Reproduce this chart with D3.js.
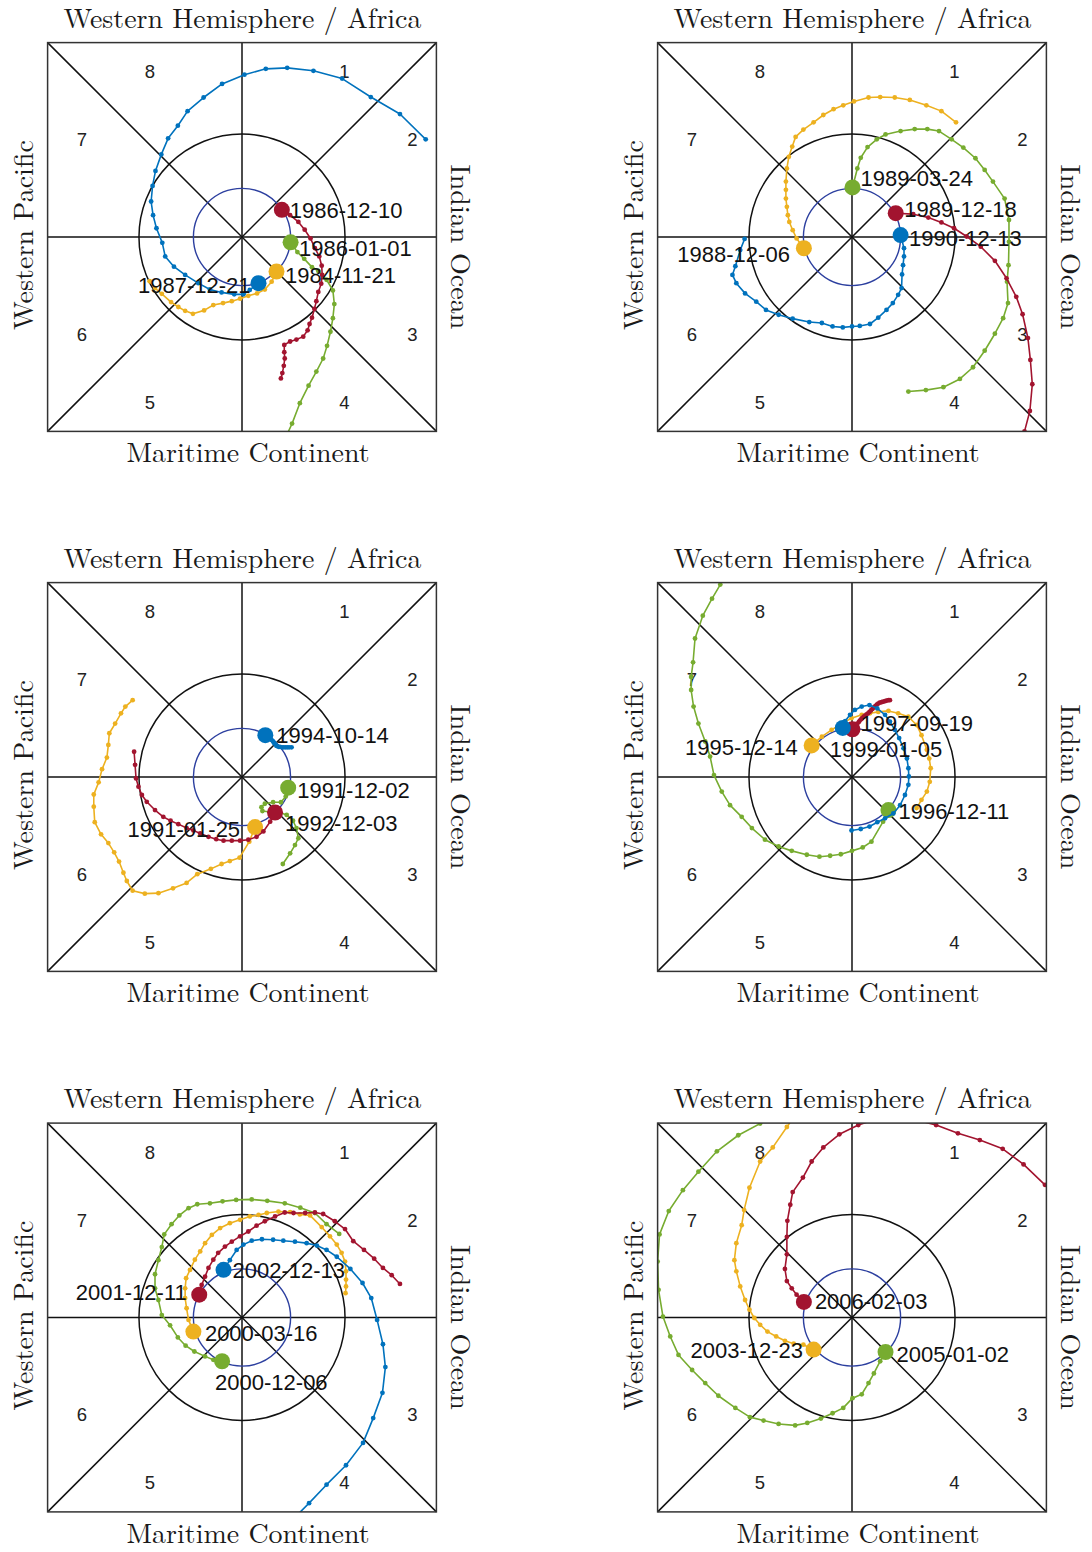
<!DOCTYPE html>
<html>
<head>
<meta charset="utf-8">
<script src="https://cdn.jsdelivr.net/npm/d3@7"></script>
<style>
  body { margin: 0; background: #fff; }
</style>
</head>
<body>
<svg id="chart" width="1092" height="1552"></svg>
<script>
// MJO phase-space trajectories (RMM1, RMM2); the first point of each track is the onset date.

// ---- 1984 - 1987 ----
const mjo_1984_11_21 = [[0.71,-0.71],[0.61,-0.92],[0.47,-1.08],[0.31,-1.16],[0.13,-1.21],[-0.04,-1.27],[-0.21,-1.32],[-0.39,-1.36],[-0.59,-1.40],[-0.78,-1.51],[-1.01,-1.58],[-1.17,-1.52],[-1.31,-1.44],[-1.46,-1.34],[-1.65,-1.17],[-1.79,-1.05],[-1.90,-0.91]];
const mjo_1986_01_01 = [[1.00,-0.11],[1.14,-0.31],[1.28,-0.45],[1.44,-0.62],[1.57,-0.70],[1.74,-0.88],[1.87,-1.10],[1.90,-1.38],[1.87,-1.67],[1.82,-1.95],[1.75,-2.24],[1.67,-2.50],[1.53,-2.77],[1.37,-3.06],[1.19,-3.42],[1.03,-3.84],[0.90,-4.12]];
const mjo_1986_12_10 = [[0.82,0.56],[0.99,0.45],[1.16,0.31],[1.29,0.15],[1.41,-0.03],[1.50,-0.23],[1.59,-0.40],[1.64,-0.59],[1.65,-0.78],[1.63,-0.96],[1.57,-1.13],[1.53,-1.32],[1.49,-1.48],[1.44,-1.66],[1.39,-1.79],[1.35,-1.92],[1.26,-2.05],[1.12,-2.11],[0.99,-2.15],[0.87,-2.22],[0.87,-2.37],[0.88,-2.50],[0.86,-2.65],[0.83,-2.80],[0.80,-2.91]];
const mjo_1987_12_21 = [[0.34,-0.95],[0.16,-1.09],[0.03,-1.18],[-0.16,-1.18],[-0.42,-1.14],[-0.66,-1.08],[-0.90,-0.95],[-1.17,-0.78],[-1.40,-0.61],[-1.58,-0.40],[-1.64,-0.12],[-1.76,0.18],[-1.83,0.45],[-1.87,0.73],[-1.84,1.05],[-1.78,1.36],[-1.66,1.70],[-1.52,2.03],[-1.32,2.29],[-1.12,2.59],[-0.79,2.87],[-0.41,3.15],[0.05,3.34],[0.49,3.46],[0.93,3.48],[1.47,3.42],[2.06,3.26],[2.65,2.88],[3.25,2.53],[3.78,2.01]];

// ---- 1988 - 1990 ----
const mjo_1988_12_06 = [[-0.99,-0.23],[-1.14,-0.03],[-1.22,0.14],[-1.29,0.31],[-1.32,0.45],[-1.34,0.62],[-1.36,0.79],[-1.36,0.97],[-1.36,1.14],[-1.34,1.41],[-1.30,1.65],[-1.23,1.86],[-1.16,2.06],[-1.00,2.21],[-0.79,2.36],[-0.59,2.51],[-0.38,2.63],[-0.18,2.71],[0.04,2.79],[0.34,2.87],[0.58,2.88],[0.88,2.87],[1.19,2.82],[1.53,2.71],[1.84,2.59],[2.14,2.36]];
const mjo_1989_03_24 = [[0.01,1.02],[0.11,1.41],[0.18,1.63],[0.32,1.85],[0.51,2.01],[0.69,2.11],[1.00,2.18],[1.29,2.22],[1.55,2.22],[1.79,2.18],[2.05,2.01],[2.29,1.84],[2.54,1.62],[2.73,1.38],[2.90,1.14],[3.14,0.79],[3.23,0.35],[3.23,-0.10],[3.22,-0.58],[3.19,-0.92],[3.21,-1.36],[3.11,-1.67],[2.94,-1.99],[2.73,-2.34],[2.49,-2.68],[2.22,-2.92],[1.88,-3.09],[1.52,-3.15],[1.16,-3.18]];
const mjo_1989_12_18 = [[0.90,0.49],[1.26,0.47],[1.57,0.40],[1.84,0.30],[2.10,0.18],[2.36,0.01],[2.65,-0.20],[2.94,-0.49],[3.18,-0.85],[3.38,-1.23],[3.51,-1.59],[3.62,-2.08],[3.67,-2.53],[3.71,-3.03],[3.66,-3.58],[3.55,-4.00],[3.52,-4.10]];
const mjo_1990_12_13 = [[1.00,0.04],[1.07,-0.23],[1.07,-0.40],[1.05,-0.58],[1.03,-0.77],[1.02,-1.05],[0.95,-1.19],[0.84,-1.36],[0.71,-1.50],[0.54,-1.66],[0.37,-1.79],[0.16,-1.83],[0.00,-1.84],[-0.19,-1.86],[-0.40,-1.84],[-0.62,-1.77],[-0.88,-1.75],[-1.22,-1.68],[-1.51,-1.60],[-1.77,-1.50],[-1.97,-1.33],[-2.20,-1.16],[-2.38,-0.95],[-2.46,-0.78],[-2.40,-0.60],[-2.30,-0.27],[-2.21,-0.04]];

// ---- 1991 - 1994 ----
const mjo_1991_01_25 = [[0.27,-1.03],[0.15,-1.33],[-0.05,-1.66],[-0.25,-1.73],[-0.42,-1.79],[-0.64,-1.89],[-0.92,-2.00],[-1.14,-2.18],[-1.42,-2.29],[-1.72,-2.39],[-2.00,-2.40],[-2.25,-2.34],[-2.37,-2.14],[-2.44,-1.97],[-2.53,-1.74],[-2.63,-1.55],[-2.75,-1.36],[-2.90,-1.18],[-3.03,-0.93],[-3.05,-0.61],[-3.05,-0.36],[-2.95,-0.11],[-2.88,0.16],[-2.78,0.40],[-2.75,0.66],[-2.73,0.90],[-2.61,1.10],[-2.49,1.31],[-2.40,1.45],[-2.25,1.58]];
const mjo_1991_12_02 = [[0.95,-0.22],[0.90,-0.40],[0.80,-0.52],[0.64,-0.52],[0.47,-0.55],[0.40,-0.62],[0.42,-0.70],[0.58,-0.72],[0.75,-0.72],[0.92,-0.78],[1.05,-0.90],[1.12,-1.05],[1.16,-1.26],[1.09,-1.40],[0.99,-1.57],[0.84,-1.79]];
const mjo_1992_12_03 = [[0.68,-0.73],[0.58,-0.92],[0.44,-1.12],[0.30,-1.23],[0.13,-1.29],[-0.04,-1.31],[-0.21,-1.31],[-0.38,-1.31],[-0.53,-1.28],[-0.69,-1.23],[-0.86,-1.16],[-1.00,-1.10],[-1.14,-1.05],[-1.31,-0.97],[-1.47,-0.90],[-1.62,-0.82],[-1.79,-0.68],[-1.96,-0.51],[-2.06,-0.37],[-2.13,-0.20],[-2.18,-0.03],[-2.20,0.25],[-2.22,0.52]];
const mjo_1994_10_14 = [[0.48,0.86],[0.51,0.84],[0.54,0.82],[0.58,0.79],[0.61,0.76],[0.64,0.73],[0.66,0.70],[0.69,0.67],[0.71,0.64],[0.75,0.62],[0.78,0.62],[0.82,0.61],[0.85,0.61],[0.89,0.61],[0.93,0.61],[0.97,0.61],[1.02,0.61]];

// ---- 1995 - 1999 ----
const mjo_1995_12_14 = [[-0.83,0.65],[-0.62,0.83],[-0.42,0.97],[-0.21,1.10],[-0.01,1.21],[0.20,1.28],[0.37,1.31],[0.54,1.34],[0.75,1.36],[0.95,1.31],[1.16,1.24],[1.33,1.07],[1.43,0.86],[1.54,0.56],[1.59,0.38],[1.62,0.18],[1.60,-0.10],[1.54,-0.30],[1.43,-0.47],[1.33,-0.64]];
const mjo_1996_12_11 = [[0.75,-0.68],[0.64,-0.92],[0.40,-1.33],[0.22,-1.45],[0.00,-1.52],[-0.23,-1.59],[-0.45,-1.62],[-0.67,-1.64],[-0.93,-1.60],[-1.24,-1.52],[-1.51,-1.43],[-1.79,-1.29],[-2.06,-1.05],[-2.27,-0.82],[-2.51,-0.58],[-2.68,-0.30],[-2.84,0.04],[-2.92,0.42],[-3.02,0.73],[-3.16,1.10],[-3.26,1.45],[-3.31,1.79],[-3.31,2.06],[-3.27,2.36],[-3.23,2.85],[-3.07,3.32],[-2.88,3.67],[-2.71,3.96],[-2.65,4.10]];
const mjo_1997_09_19 = [[0.01,0.98],[0.04,1.01],[0.06,1.04],[0.09,1.07],[0.11,1.10],[0.14,1.13],[0.16,1.16],[0.19,1.19],[0.21,1.21],[0.24,1.24],[0.27,1.26],[0.30,1.29],[0.33,1.31],[0.36,1.34],[0.39,1.37],[0.42,1.40],[0.45,1.43],[0.48,1.46],[0.51,1.49],[0.54,1.51],[0.57,1.53],[0.61,1.54],[0.64,1.55],[0.68,1.56],[0.71,1.57],[0.75,1.58],[0.78,1.58]];
const mjo_1999_01_05 = [[-0.19,1.01],[-0.14,1.15],[-0.04,1.28],[0.06,1.38],[0.20,1.45],[0.36,1.48],[0.52,1.41],[0.68,1.28],[0.78,1.14],[0.88,0.97],[0.97,0.80],[1.06,0.59],[1.13,0.38],[1.16,0.18],[1.17,0.01],[1.16,-0.16],[1.09,-0.37],[0.99,-0.58],[0.85,-0.75],[0.68,-0.85],[0.52,-0.93],[0.36,-1.02],[0.18,-1.07],[-0.01,-1.10]];

// ---- 2000 - 2002 ----
const mjo_2000_03_16 = [[-1.00,-0.29],[-1.10,-0.05],[-1.14,0.19],[-1.17,0.40],[-1.17,0.60],[-1.15,0.81],[-1.07,0.98],[-0.97,1.19],[-0.86,1.36],[-0.76,1.53],[-0.62,1.70],[-0.45,1.84],[-0.25,1.94],[-0.04,2.01],[0.16,2.08],[0.34,2.11],[0.51,2.15],[0.75,2.18],[0.99,2.17],[1.19,2.12],[1.40,2.10],[1.64,1.86],[1.81,1.67],[1.95,1.50],[2.05,1.33],[2.12,1.15],[2.14,0.95],[2.14,0.78],[2.14,0.64],[2.13,0.50]];
const mjo_2000_12_06 = [[-0.41,-0.90],[-0.59,-0.87],[-0.76,-0.80],[-0.98,-0.70],[-1.16,-0.58],[-1.32,-0.41],[-1.48,-0.16],[-1.65,0.05],[-1.72,0.36],[-1.79,0.60],[-1.79,0.89],[-1.72,1.18],[-1.65,1.45],[-1.60,1.71],[-1.45,1.92],[-1.29,2.10],[-1.10,2.25],[-0.92,2.33],[-0.66,2.35],[-0.40,2.39],[-0.12,2.42],[0.20,2.43],[0.52,2.40],[0.88,2.35],[1.20,2.26],[1.50,2.15],[1.74,1.92],[2.00,1.72]];
const mjo_2001_12_11 = [[-0.88,0.47],[-0.83,0.67],[-0.76,0.84],[-0.69,1.02],[-0.59,1.19],[-0.49,1.33],[-0.35,1.46],[-0.21,1.56],[-0.04,1.67],[0.13,1.77],[0.30,1.89],[0.47,1.98],[0.68,2.08],[0.88,2.16],[1.06,2.15],[1.30,2.15],[1.50,2.16],[1.67,2.13],[1.91,1.98],[2.12,1.82],[2.29,1.57],[2.51,1.39],[2.72,1.21],[2.90,1.02],[3.08,0.87],[3.25,0.69]];
const mjo_2002_12_13 = [[-0.38,0.98],[-0.25,1.18],[-0.11,1.39],[0.03,1.50],[0.20,1.58],[0.41,1.61],[0.64,1.60],[0.85,1.58],[1.09,1.56],[1.33,1.53],[1.54,1.48],[1.74,1.39],[1.95,1.25],[2.23,1.00],[2.48,0.71],[2.66,0.40],[2.78,-0.05],[2.90,-0.55],[2.95,-1.02],[2.89,-1.55],[2.70,-2.07],[2.49,-2.58],[2.14,-3.04],[1.74,-3.44],[1.38,-3.82],[1.15,-4.05]];

// ---- 2003 - 2006 ----
const mjo_2003_12_23 = [[-0.79,-0.66],[-1.00,-0.56],[-1.20,-0.54],[-1.38,-0.48],[-1.56,-0.39],[-1.74,-0.29],[-1.89,-0.15],[-2.01,-0.01],[-2.11,0.16],[-2.20,0.36],[-2.30,0.64],[-2.38,0.95],[-2.42,1.18],[-2.38,1.53],[-2.27,1.90],[-2.22,2.21],[-2.11,2.67],[-1.89,3.21],[-1.63,3.50],[-1.34,3.92],[-1.24,4.06]];
const mjo_2005_01_02 = [[0.69,-0.71],[0.58,-0.90],[0.45,-1.15],[0.34,-1.35],[0.20,-1.58],[0.01,-1.66],[-0.18,-1.86],[-0.40,-1.97],[-0.64,-2.08],[-0.92,-2.17],[-1.17,-2.22],[-1.51,-2.19],[-1.82,-2.12],[-2.10,-2.05],[-2.40,-1.86],[-2.75,-1.61],[-3.02,-1.35],[-3.29,-1.08],[-3.57,-0.77],[-3.74,-0.39],[-3.89,0.02],[-3.98,0.57],[-4.00,1.15],[-3.96,1.71],[-3.77,2.19],[-3.48,2.62],[-3.16,3.00],[-2.78,3.42],[-2.34,3.75],[-1.89,3.99],[-1.75,4.08]];
const mjo_2006_02_03 = [[-0.99,0.32],[-1.14,0.47],[-1.24,0.60],[-1.34,0.75],[-1.38,1.00],[-1.34,1.30],[-1.34,1.66],[-1.33,1.99],[-1.27,2.32],[-1.22,2.58],[-1.01,2.88],[-0.83,3.21],[-0.59,3.50],[-0.26,3.77],[0.13,3.96],[0.55,4.10],[1.10,4.12],[1.73,3.96],[2.18,3.79],[2.63,3.65],[3.10,3.47],[3.53,3.15],[3.97,2.73],[4.05,2.65]];

// Events shown in each panel, in chronological order
const panelDates = [
  ["1984-11-21", "1986-01-01", "1986-12-10", "1987-12-21"],
  ["1988-12-06", "1989-03-24", "1989-12-18", "1990-12-13"],
  ["1991-01-25", "1991-12-02", "1992-12-03", "1994-10-14"],
  ["1995-12-14", "1996-12-11", "1997-09-19", "1999-01-05"],
  ["2000-03-16", "2000-12-06", "2001-12-11", "2002-12-13"],
  ["2003-12-23", "2005-01-02", "2006-02-03"]
];
const panelTracks = [
  [mjo_1984_11_21, mjo_1986_01_01, mjo_1986_12_10, mjo_1987_12_21],
  [mjo_1988_12_06, mjo_1989_03_24, mjo_1989_12_18, mjo_1990_12_13],
  [mjo_1991_01_25, mjo_1991_12_02, mjo_1992_12_03, mjo_1994_10_14],
  [mjo_1995_12_14, mjo_1996_12_11, mjo_1997_09_19, mjo_1999_01_05],
  [mjo_2000_03_16, mjo_2000_12_06, mjo_2001_12_11, mjo_2002_12_13],
  [mjo_2003_12_23, mjo_2005_01_02, mjo_2006_02_03]
];

// Phase numbers and region names
const phaseNames = ["1", "2", "3", "4", "5", "6", "7", "8"];
const phaseAt = [[2, 3.4], [3.4, 2], [3.4, -2], [2, -3.4], [-2, -3.4], [-3.4, -2], [-3.4, 2], [-2, 3.4]];
const regionTop = "Western Hemisphere / Africa";
const regionBottom = "Maritime Continent";
const regionLeft = "Western Pacific";
const regionRight = "Indian Ocean";

// ---- presentation ----
const trackColors = ["#EDB120", "#77AC30", "#A2142F", "#0072BD"];
const labelPlacement = {
  "1986-12-10": ["start", 8, 1],   "1986-01-01": ["start", 8.5, 6],
  "1984-11-21": ["start", 8.5, 4], "1987-12-21": ["end", -8, 2],
  "1989-03-24": ["start", 8, -9],  "1989-12-18": ["start", 8.5, -4],
  "1990-12-13": ["start", 8.5, 3], "1988-12-06": ["end", -14, 6],
  "1994-10-14": ["start", 11, 0],  "1991-12-02": ["start", 9, 3],
  "1992-12-03": ["start", 10, 11], "1991-01-25": ["end", -15, 2],
  "1997-09-19": ["start", 8, -6],  "1999-01-05": ["start", -13, 22],
  "1995-12-14": ["end", -14, 2],   "1996-12-11": ["start", 10, 1],
  "2002-12-13": ["start", 9, 1],   "2001-12-11": ["end", -12.5, -2],
  "2000-03-16": ["start", 11.5, 2],"2000-12-06": ["start", -7, 21.5],
  "2006-02-03": ["start", 11, 0],  "2003-12-23": ["end", -10.5, 1],
  "2005-01-02": ["start", 11, 3]
};

const svg = d3.select("#chart");
const half = 194.4;
const centers = [[242, 237], [852, 237], [242, 777], [852, 777], [242, 1317.5], [852, 1317.5]];
const serif = "'Latin Modern Roman', 'CMU Serif', 'Liberation Serif', 'Times New Roman', serif";
const sans = "'Liberation Sans', Arial, Helvetica, sans-serif";

function fitText(sel, target, base) {
  sel.style("font-size", base + "px");
  const w = sel.node().getComputedTextLength();
  sel.style("font-size", (base * target / w).toFixed(2) + "px");
}

panelTracks.forEach((tracks, p) => {
  const [cx, cy] = centers[p];
  const g = svg.append("g").attr("transform", `translate(${cx - half},${cy - half})`);
  const x = d3.scaleLinear().domain([-4, 4]).range([0, 2 * half]);
  const y = d3.scaleLinear().domain([-4, 4]).range([2 * half, 0]);
  const clipId = "clip" + p;
  g.append("clipPath").attr("id", clipId)
    .append("rect").attr("x", 0).attr("y", 0).attr("width", 2 * half).attr("height", 2 * half);

  // Phase-space frame: axes, diagonals and amplitude circles
  const grid = g.append("g").attr("stroke", "#111").attr("stroke-width", 1.5).attr("fill", "none");
  grid.append("line").attr("x1", x(-4)).attr("x2", x(4)).attr("y1", y(0)).attr("y2", y(0));
  grid.append("line").attr("x1", x(0)).attr("x2", x(0)).attr("y1", y(-4)).attr("y2", y(4));
  grid.append("line").attr("x1", x(-4)).attr("y1", y(-4)).attr("x2", x(4)).attr("y2", y(4));
  grid.append("line").attr("x1", x(-4)).attr("y1", y(4)).attr("x2", x(4)).attr("y2", y(-4));
  grid.append("circle").attr("cx", x(0)).attr("cy", y(0)).attr("r", x(2.12) - x(0));
  g.append("circle").attr("cx", x(0)).attr("cy", y(0)).attr("r", x(1) - x(0))
    .attr("fill", "none").attr("stroke", "#2c3f9f").attr("stroke-width", 1.4);

  // Phase numbers
  g.selectAll("text.phase").data(phaseNames).join("text")
    .attr("class", "phase")
    .attr("x", (d, i) => x(phaseAt[i][0]))
    .attr("y", (d, i) => y(phaseAt[i][1]))
    .attr("dominant-baseline", "central")
    .attr("font-family", sans).attr("font-size", 18.5).attr("fill", "#222")
    .text(d => d);

  const line = d3.line().x(d => x(d[0])).y(d => y(d[1]));
  const plot = g.append("g").attr("clip-path", `url(#${clipId})`);
  tracks.forEach((pts, k) => {
    const col = trackColors[k];
    const tg = plot.append("g");
    tg.append("path").datum(pts).attr("d", line)
      .attr("fill", "none").attr("stroke", col).attr("stroke-width", 1.6)
      .attr("stroke-linejoin", "round");
    tg.selectAll("circle.m").data(pts).join("circle").attr("class", "m")
      .attr("cx", d => x(d[0])).attr("cy", d => y(d[1])).attr("r", 2.4).attr("fill", col);
    tg.append("circle").attr("cx", x(pts[0][0])).attr("cy", y(pts[0][1])).attr("r", 8).attr("fill", col);
  });

  // Onset-date labels
  panelDates[p].forEach((date, k) => {
    const pt = panelTracks[p][k][0];
    const [anchor, dx, dy] = labelPlacement[date];
    g.append("text")
      .attr("x", x(pt[0]) + dx).attr("y", y(pt[1]) + dy)
      .attr("text-anchor", anchor).attr("dominant-baseline", "central")
      .attr("font-family", sans).attr("font-size", 22).attr("fill", "#111")
      .text(date);
  });

  // Frame border
  g.append("rect").attr("x", 0).attr("y", 0).attr("width", 2 * half).attr("height", 2 * half)
    .attr("fill", "none").attr("stroke", "#333").attr("stroke-width", 1.5);

  // Region names around the frame
  const t = svg.append("text").attr("x", cx + 0.5).attr("y", cy - half - 15)
    .attr("text-anchor", "middle").attr("font-family", serif).attr("fill", "#1a1a1a").text(regionTop);
  fitText(t, 358, 25);
  const b = svg.append("text").attr("x", cx + 6).attr("y", cy + half + 31)
    .attr("text-anchor", "middle").attr("font-family", serif).attr("fill", "#1a1a1a").text(regionBottom);
  fitText(b, 243, 25);
  const l = svg.append("text").attr("transform", `translate(${cx - half - 15},${cy - 2}) rotate(-90)`)
    .attr("text-anchor", "middle").attr("font-family", serif).attr("fill", "#1a1a1a").text(regionLeft);
  fitText(l, 190, 25);
  const r = svg.append("text").attr("transform", `translate(${cx + half + 15},${cy + 10}) rotate(90)`)
    .attr("text-anchor", "middle").attr("font-family", serif).attr("fill", "#1a1a1a").text(regionRight);
  fitText(r, 165, 25);
});
</script>
</body>
</html>
